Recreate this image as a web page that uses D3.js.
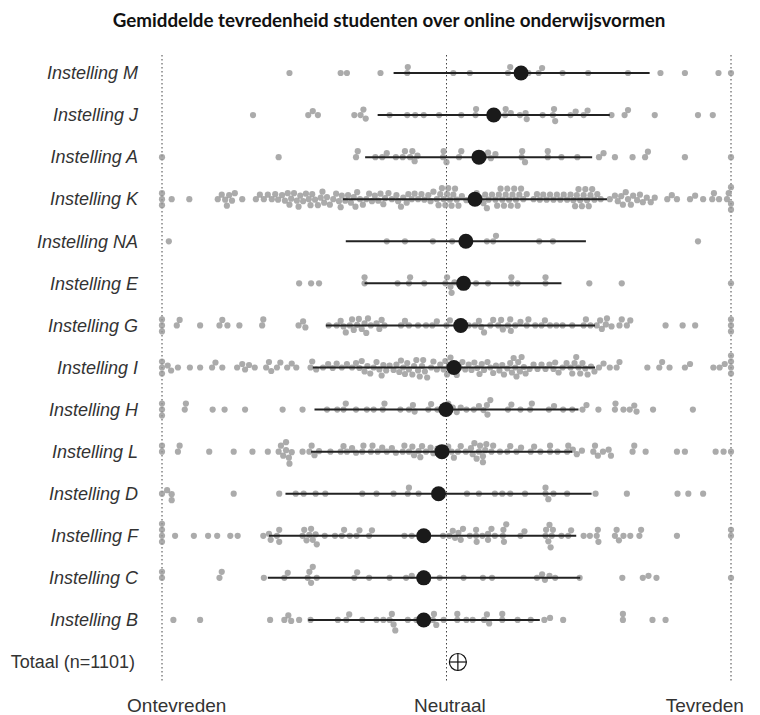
<!DOCTYPE html>
<html>
<head>
<meta charset="utf-8">
<script src="https://cdn.jsdelivr.net/npm/d3@7"></script>
<style>
  body { margin: 0; background: #fff; }
  svg { display: block; }
</style>
</head>
<body>
<svg id="chart" width="760" height="715"></svg>
<script>
// rijen van boven naar onder
const instellingen = ["Instelling M", "Instelling J", "Instelling A", "Instelling K", "Instelling NA",
  "Instelling E", "Instelling G", "Instelling I", "Instelling H", "Instelling L",
  "Instelling D", "Instelling F", "Instelling C", "Instelling B"];
const totaalLabel = "Totaal (n=1101)";

// schaal 0 = ontevreden, 50 = neutraal, 100 = tevreden
const gemiddelde = [63.1, 58.3, 55.7, 55.0, 53.4, 53.0, 52.5, 51.3, 49.9, 49.2, 48.6, 46.0, 46.0, 46.0];
const ondergrens = [40.7, 37.9, 35.7, 31.8, 32.3, 35.6, 28.8, 26.5, 26.8, 26.2, 21.7, 18.8, 18.6, 25.7];
const bovengrens = [85.7, 78.7, 75.6, 78.2, 74.5, 70.2, 76.1, 76.1, 73.2, 72.1, 75.5, 72.8, 73.5, 66.4];
const totaalGemiddelde = 52.0;

const schaalLabels = ["Ontevreden", "Neutraal", "Tevreden"];
const schaalLabelWaarden = [2.5, 50.5, 95.3];
const referentieLijnen = [0, 50, 100];

// individuele scores per instelling
const scoresM = [22.4, 31.4, 32.5, 38.4, 43.1, 43.2, 51.2, 54.1, 60.8, 61.2, 62.4, 64.4, 66.2, 66.8,
  70.4, 74.9, 81.9, 87.6, 91.9, 97.8, 100];
const scoresJ = [16.0, 25.7, 26.5, 27.4, 33.8, 34.9, 35.4, 35.8, 40.0, 43.1, 44.5, 46.0, 48.7, 52.6,
  55.1, 55.2, 59.2, 60.3, 60.4, 61.3, 62.9, 63.9, 64.1, 66.9, 68.7, 68.9, 69.1, 71.8, 72.7, 74.1,
  74.8, 79.0, 81.3, 81.9, 86.6, 94.2, 96.8];
const scoresA = [0, 20.5, 34.1, 34.4, 37.5, 38.7, 39.5, 41.1, 42.3, 42.7, 43.6, 44.0, 44.4, 44.9,
  49.4, 49.5, 50.0, 52.2, 52.6, 56.6, 57.3, 57.8, 58.6, 63.2, 63.3, 63.8, 67.8, 67.8, 70.2, 73.0,
  76.8, 77.6, 79.6, 82.7, 84.9, 85.4, 91.9, 100];
const scoresK = [0, 0, 0, 1.7, 4.8, 9.8, 10.5, 11.1, 11.4, 11.8, 12.3, 12.8, 14.1,
  16.5, 17.2, 17.9, 18.6, 19.3, 19.9, 20.4, 21.1, 21.6, 22.1, 22.4, 22.7, 23.2, 23.7, 24.0, 24.3,
  24.8, 25.3, 25.8, 26.1, 26.4, 26.9, 27.4, 27.9, 28.2, 28.5, 29.0, 29.5, 30.1, 30.6, 31.1, 31.4,
  31.6, 32.2, 32.7, 33.2, 33.7, 34.0, 34.3, 34.8, 35.3, 35.9, 36.4, 36.9, 37.4, 38.0,
  38.4, 38.9, 39.2, 39.8, 40.4, 41.2, 41.5, 42.0, 42.4, 43.0, 43.3, 43.9, 44.4, 45.0, 45.6, 46.1,
  46.8, 47.2, 47.7, 48.3, 48.6, 48.9, 49.2, 49.5, 49.8, 50.1, 50.3, 50.6, 50.9, 51.2, 51.5, 51.8,
  52.1, 52.7, 53.5, 54.4, 55.0, 55.3, 55.9, 56.5, 56.8, 57.1, 57.4, 58.0, 58.6, 58.9, 59.2, 59.5,
  59.8, 60.1, 60.4, 60.7, 61.0, 61.3, 61.6, 61.9, 62.2, 62.5, 62.8, 63.1, 63.5, 64.1, 65.3, 65.9,
  66.4, 67.0, 67.6, 68.2, 68.8, 69.4, 70.0, 70.6, 71.2, 71.8, 72.3, 72.6, 72.9, 73.2, 73.5, 73.8,
  74.1, 74.4, 74.7, 75.0, 75.3, 75.6, 76.0, 76.5, 77.1, 78.7, 79.6, 80.1, 80.7, 81.0, 81.5, 81.9,
  82.4, 82.8, 83.5, 84.0, 84.5, 85.2, 85.9, 86.6, 88.8, 89.6, 90.5, 92.8, 93.7, 95.1, 96.7, 97.0,
  97.9, 99.3, 99.6, 100, 100, 100];
const scoresNA = [1.2, 39.5, 42.7, 47.6, 51.0, 57.1, 58.2, 58.7, 66.3, 68.7, 94.2];
const scoresE = [24.1, 26.2, 27.6, 35.6, 35.6, 41.4, 43.4, 43.6, 46.1, 49.8, 50.1, 50.7, 50.9, 51.4,
  55.2, 57.3, 61.4, 61.4, 62.5, 67.4, 67.4, 75.1, 80.8, 100];
const scoresG = [0, 0, 0, 2.6, 3.1, 6.7, 10.1, 10.6, 11.5, 13.6, 17.6, 17.8, 24.0, 24.8, 25.2,
  29.3, 30.7, 31.4, 31.9, 32.3, 33.0, 33.4, 33.7, 34.3, 34.6, 35.1, 35.6, 35.9, 36.2, 36.7, 37.7,
  38.2, 38.6, 39.1, 42.0, 42.7, 43.4, 45.0, 46.4, 47.5, 48.3, 50.0, 50.6, 51.8, 52.6, 53.9, 55.0,
  55.7, 56.1, 56.6, 57.7, 58.2, 59.1, 59.6, 59.9, 60.8, 61.2, 61.3, 62.1, 63.0, 64.1, 64.4, 65.6,
  66.7, 67.3, 68.2, 69.3, 70.4, 72.1, 74.1, 74.5, 75.3, 76.4, 77.0, 77.3, 78.0, 78.2, 79.0, 80.4,
  80.8, 81.7, 82.3, 88.5, 91.5, 93.7, 100, 100, 100];
const scoresI = [0, 0, 0, 1.0, 1.6, 2.8, 4.9, 6.7, 8.8, 9.4, 10.6, 13.2, 14.1, 14.6, 15.3, 16.3,
  18.3, 18.8, 19.2, 20.2, 20.8, 22.0, 22.8, 23.6, 26.1, 26.4, 27.1, 28.3, 29.2, 30.0, 30.7,
  31.6, 32.5, 33.4, 34.1, 34.7, 35.1, 35.6, 36.1, 36.6, 37.2, 37.7, 38.2, 38.6, 38.9, 39.4, 40.0,
  40.7, 41.2, 41.7, 42.0, 42.4, 42.7, 43.1, 43.4, 44.0, 44.3, 44.7, 45.0, 45.3, 45.7, 45.9, 46.2,
  46.6, 47.3, 47.7, 48.3, 48.9, 49.5, 49.8, 50.1, 50.4, 50.7, 51.1, 51.4, 51.8, 52.3, 52.8, 53.3,
  53.9, 54.4, 54.9, 55.4, 55.8, 56.2, 56.6, 57.2, 57.7, 58.2, 58.7, 59.3, 59.8, 60.1, 60.7, 61.2,
  61.5, 61.8, 62.1, 62.3, 62.6, 62.9, 63.2, 63.6, 63.9, 64.6, 65.3, 66.0, 66.7, 67.4, 68.1, 68.8,
  69.1, 69.7, 70.4, 71.1, 71.8, 72.1, 72.5, 72.8, 73.2, 73.5, 73.9, 74.4, 74.8, 75.4, 76.0,
  76.8, 77.6, 78.7, 79.9, 80.4, 85.3, 87.4, 87.9, 89.2, 91.9, 92.8, 96.9, 98.0, 98.9,
  100, 100, 100, 100];
const scoresH = [0, 0, 0, 4.0, 4.2, 8.9, 11.0, 14.6, 21.2, 24.7, 29.0, 30.8, 31.9, 32.3, 34.1, 36.0,
  37.2, 38.8, 39.1, 41.9, 43.4, 44.1, 44.4, 46.8, 47.3, 48.4, 50.1, 50.3, 51.1, 51.8, 52.5, 53.5,
  54.8, 55.7, 56.5, 57.1, 57.2, 57.7, 60.8, 61.4, 63.0, 64.7, 65.0, 68.0, 68.9, 70.5, 72.1, 73.9,
  74.6, 76.7, 79.6, 79.7, 81.1, 82.2, 83.0, 83.4, 86.3, 93.3];
const scoresL = [0, 0, 2.8, 3.1, 8.3, 12.6, 15.9, 18.6, 20.5, 20.9, 21.3, 21.8, 21.8, 22.3, 22.4,
  22.8, 24.7, 25.9, 26.3, 26.8, 27.6, 29.6, 31.4, 31.9, 32.5, 33.4, 34.1, 35.2, 35.4, 36.7, 37.0,
  37.9, 38.7, 39.5, 40.4, 41.1, 42.3, 42.6, 43.4, 44.0, 44.3, 45.1, 45.4, 45.7, 46.4, 47.2, 47.7,
  48.4, 49.7, 50.3, 50.9, 51.3, 52.0, 52.5, 53.4, 54.3, 54.6, 54.9, 55.3, 55.7, 55.9, 56.4, 56.4,
  56.8, 57.0, 57.9, 58.2, 59.4, 60.7, 61.2, 62.3, 63.1, 64.8, 65.4, 66.5, 68.2, 68.2, 69.5, 71.2,
  71.4, 72.2, 72.9, 73.8, 75.8, 76.1, 76.6, 77.5, 78.5, 78.9, 82.7, 83.0, 85.0, 90.5, 91.9, 97.3,
  98.7, 100];
const scoresD = [0, 0.9, 1.7, 1.7, 12.6, 20.6, 23.5, 24.9, 27.0, 28.7, 35.2, 37.7, 40.7, 43.2, 43.4,
  45.1, 53.6, 55.7, 58.5, 59.8, 61.2, 63.8, 67.4, 67.4, 67.9, 68.8, 71.2, 76.2, 81.7, 90.6, 92.5, 95.1];
const scoresF = [0, 0, 0, 0, 2.3, 5.6, 8.1, 9.7, 12.0, 13.3, 17.8, 18.8, 19.1, 20.2, 20.6,
  20.6, 24.7, 25.0, 25.4, 25.9, 26.2, 26.5, 27.0, 27.2, 28.6, 30.4, 31.6, 32.0, 33.0, 34.2, 34.7,
  36.4, 36.9, 42.6, 43.9, 49.4, 50.5, 51.1, 51.5, 52.1, 52.5, 52.9, 54.1, 55.2, 55.2, 55.3, 56.3,
  57.3, 57.3, 57.9, 58.5, 59.9, 60.0, 60.1, 60.5, 63.0, 63.7, 67.4, 67.5, 67.9, 68.1, 68.3, 68.5,
  68.7, 70.2, 71.4, 71.9, 74.1, 75.2, 76.4, 76.6, 76.7, 79.6, 79.9, 80.3, 81.1, 82.3, 83.9, 84.2,
  90.5, 100, 100];
const scoresC = [0, 0, 10.1, 10.5, 17.9, 21.5, 22.1, 25.6, 25.9, 26.2, 26.5, 27.2, 33.8, 34.3, 36.4,
  40.0, 42.9, 43.9, 45.2, 45.9, 48.8, 53.0, 56.4, 58.0, 65.9, 66.8, 67.3, 68.1, 69.1, 73.4, 80.9,
  84.5, 85.5, 86.9, 100];
const scoresB = [2.0, 6.7, 19.0, 21.5, 22.2, 22.7, 24.1, 26.1, 30.9, 32.4, 32.9, 35.2, 37.7, 38.9,
  40.0, 40.4, 40.7, 41.0, 43.2, 44.7, 47.6, 47.8, 48.2, 49.5, 51.9, 51.9, 53.5, 54.6, 56.6, 57.1,
  57.5, 59.8, 59.8, 62.5, 64.8, 67.2, 68.2, 70.5, 81.0, 81.0, 86.2, 88.5];

const scores = [scoresM, scoresJ, scoresA, scoresK, scoresNA, scoresE, scoresG, scoresI,
  scoresH, scoresL, scoresD, scoresF, scoresC, scoresB];

const rijen = instellingen.map((naam, i) => ({
  naam: naam,
  gem: gemiddelde[i],
  lo: ondergrens[i],
  hi: bovengrens[i],
  scores: scores[i]
}));

const svg = d3.select("#chart");

const x = d3.scaleLinear().domain([0, 100]).range([162, 731]);
const y = d3.scalePoint()
  .domain(instellingen.concat([totaalLabel]))
  .range([73, 662]);

// titel
svg.append("text")
  .attr("x", 389)
  .attr("y", 27)
  .attr("text-anchor", "middle")
  .style("font-family", "Lato, 'Open Sans', sans-serif")
  .style("font-weight", "700")
  .style("font-size", "18.8px")
  .style("fill", "#111")
  .text("Gemiddelde tevredenheid studenten over online onderwijsvormen");

// stippellijnen ontevreden / neutraal / tevreden
svg.append("g")
  .selectAll("line")
  .data(referentieLijnen)
  .join("line")
  .attr("x1", d => x(d))
  .attr("x2", d => x(d))
  .attr("y1", 55)
  .attr("y2", 681)
  .attr("stroke", "#444")
  .attr("stroke-width", 1)
  .attr("stroke-dasharray", "1.5,2.5");

// eenvoudige beeswarm: elk punt zo dicht mogelijk bij de rijlijn zonder overlap
function swarm(values, afstand) {
  const punten = values.map(v => ({ v: v, px: x(v) })).sort((a, b) => a.px - b.px);
  const geplaatst = [];
  punten.forEach(p => {
    let dy = 0;
    for (let k = 0; k < 400; k++) {
      const kandidaat = (k % 2 === 0 ? 1 : -1) * Math.ceil(k / 2) * 0.5;
      const vrij = geplaatst.every(q =>
        Math.abs(q.px - p.px) >= afstand ||
        Math.hypot(q.px - p.px, q.dy - kandidaat) >= afstand);
      if (vrij) { dy = kandidaat; break; }
    }
    p.dy = dy;
    geplaatst.push(p);
  });
  return punten;
}

const rijG = svg.append("g")
  .selectAll("g")
  .data(rijen)
  .join("g")
  .attr("transform", d => `translate(0,${y(d.naam)})`);

rijG.selectAll("circle.punt")
  .data(d => swarm(d.scores, 6))
  .join("circle")
  .attr("class", "punt")
  .attr("cx", d => d.px)
  .attr("cy", d => d.dy)
  .attr("r", 3.1)
  .attr("fill", "#939393")
  .attr("fill-opacity", 0.78);

rijG.append("line")
  .attr("x1", d => x(d.lo))
  .attr("x2", d => x(d.hi))
  .attr("stroke", "#222")
  .attr("stroke-width", 2);

rijG.append("circle")
  .attr("cx", d => x(d.gem))
  .attr("r", 7.5)
  .attr("fill", "#1a1a1a");

// totaal: cirkel met kruis
const tot = svg.append("g")
  .attr("transform", `translate(${x(totaalGemiddelde)},${y(totaalLabel)})`);
tot.append("circle")
  .attr("r", 8.5)
  .attr("fill", "#fff")
  .attr("stroke", "#111")
  .attr("stroke-width", 1.2);
tot.append("line").attr("x1", -8.5).attr("x2", 8.5).attr("stroke", "#111").attr("stroke-width", 1.2);
tot.append("line").attr("y1", -8.5).attr("y2", 8.5).attr("stroke", "#111").attr("stroke-width", 1.2);

// rijlabels
const yAxis = svg.append("g")
  .attr("transform", "translate(138,0)")
  .call(d3.axisLeft(y).tickSize(0).tickPadding(0));
yAxis.select(".domain").remove();
yAxis.selectAll("text")
  .style("font-family", "'Liberation Sans', Arial, sans-serif")
  .style("font-size", "18px")
  .style("font-style", d => d === totaalLabel ? "normal" : "italic")
  .style("fill", "#333");
yAxis.selectAll(".tick")
  .filter(d => d === totaalLabel)
  .select("text")
  .attr("x", -3);

// schaallabels onderaan
const xAxis = svg.append("g")
  .attr("transform", "translate(0,698)")
  .call(d3.axisBottom(x)
    .tickValues(schaalLabelWaarden)
    .tickFormat((d, i) => schaalLabels[i])
    .tickSize(0)
    .tickPadding(0));
xAxis.select(".domain").remove();
xAxis.selectAll("text")
  .style("font-family", "'Liberation Sans', Arial, sans-serif")
  .style("font-size", "19px")
  .style("fill", "#333");
</script>
</body>
</html>
